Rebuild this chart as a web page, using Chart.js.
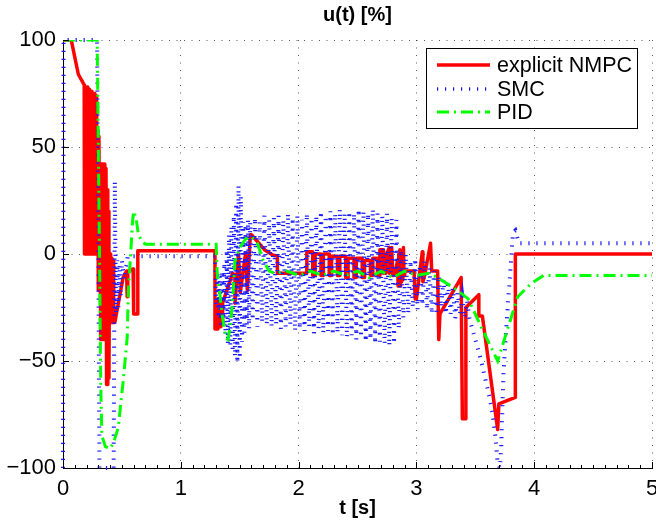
<!DOCTYPE html>
<html>
<head>
<meta charset="utf-8">
<title>u(t) [%]</title>
<script src="https://cdn.jsdelivr.net/npm/chart.js@4.4.0/dist/chart.umd.min.js"></script>
<style>
  html, body { margin: 0; padding: 0; background: #fff; }
</style>
</head>
<body>
<canvas id="uChart" width="656" height="527"></canvas>
<script>
// Data: time [s] and control signal u [%]
const nmpcT = [
  0, 0.07, 0.10, 0.13, 0.18,
  0.18, 0.185, 0.19, 0.195, 0.20, 0.205, 0.21, 0.215, 0.22, 0.225, 0.23, 0.235, 0.24, 0.245, 0.25, 0.255, 0.26, 0.265, 0.27, 0.275, 0.28, 0.285, 0.29,
  0.295, 0.30, 0.305, 0.31, 0.315, 0.32, 0.325, 0.33, 0.335, 0.34, 0.345, 0.35, 0.355, 0.36, 0.365, 0.37, 0.375, 0.38, 0.385, 0.39, 0.395, 0.40,
  0.405, 0.41, 0.415, 0.42, 0.425, 0.43, 0.44, 0.51, 0.54, 0.545, 0.55, 0.595, 0.60, 0.63, 0.635, 1.29,
  1.29, 1.295, 1.30, 1.305, 1.31, 1.315, 1.32, 1.325, 1.33, 1.335, 1.34, 1.345, 1.35, 1.355, 1.36,
  1.44, 1.46, 1.46, 1.49, 1.505, 1.55, 1.565, 1.59, 1.60, 1.71, 1.78, 1.82, 1.82, 2.07, 2.07,
  2.12, 2.12, 2.14, 2.14, 2.19, 2.19, 2.21, 2.21, 2.26, 2.26, 2.28, 2.28, 2.33, 2.33, 2.35, 2.35,
  2.40, 2.40, 2.42, 2.42, 2.47, 2.47, 2.49, 2.49, 2.54, 2.54, 2.56, 2.56, 2.61, 2.61, 2.63, 2.63,
  2.67, 2.67, 2.69, 2.69, 2.72, 2.72, 2.74, 2.74, 2.77, 2.77, 2.79, 2.79, 2.80, 2.82,
  2.84, 2.845, 2.85, 2.855, 2.86, 2.865, 2.87, 2.875, 2.88, 2.885, 2.89, 2.895, 2.90,
  2.98, 2.99, 3.00, 3.05, 3.055, 3.07, 3.12, 3.13, 3.18, 3.19, 3.20, 3.38, 3.39, 3.42, 3.42,
  3.53, 3.53, 3.56, 3.69, 3.70, 3.84, 3.84, 5
];
const nmpcU = [
  100, 100, 92, 84, 79,
  0, 79, 0, 78, 0, 78, 0, 77, 0, 77, 0, 76, 0, 76, 0, 75, 0, 75, 0, 74, 0, 74, 0,
  58, -17, 55, -17, 42, -40, 42, -40, 42, -40, 42, -40, 42, -35, 40, -61, 30, -61, 20, -58, 0, -32,
  0, -32, -2, -32, -3, -32, -32, -11, -8, -20, -8, -7, -28, -28, 1.5, 1.5,
  -35, -22, -35, -22, -35, -23, -34, -22, -33, -23, -34, -22, -33, -23, -22,
  -9, -10, -23, 0, -18, 0.5, -17, 9, 9, 2, -0.5, -1, -9, -9, 1,
  1, -10, -10, 0, 0, -10, -10, 0, 0, -10, -10, -1, -1, -10, -10, -1,
  -1, -11, -11, -2, -2, -11, -11, -2, -2, -11, -11, -3, -3, -10, -10, -2,
  -2, -10, -10, 2, 2, -9, -9, -1, 3, -9, -8, 3, -10, -9,
  -3, -15, 0, -14, 2, -15, -2, -13, 1, -12, 3, -10, -8,
  -8, -21, -21, 1, -13, -10, 5, -8, -8, -40, -28, -11, -77, -77, -25,
  -19, -29, -29, -82, -70, -67, 0, 0
];

const smcT = [
  0, 0.005, 0.29, 0.31, 0.43, 0.44, 0.45, 0.46, 0.47, 0.48, 0.49, 0.50, 0.52, 0.55, 1.29,
  1.30, 1.31, 1.32, 1.33, 1.34, 1.35, 1.36, 1.37, 1.38, 1.39, 1.40, 1.41, 1.42, 1.43, 1.44,
  1.45, 1.46, 1.47, 1.48, 1.49, 1.50, 1.51, 1.52, 1.53, 1.54, 1.55, 1.56, 1.57, 1.58, 1.59,
  1.61, 1.63, 1.65, 1.67, 1.69, 1.71, 1.73, 1.75, 1.77, 1.79,
  1.81, 1.83, 1.85, 1.87, 1.89, 1.91, 1.93, 1.95, 1.97, 1.99,
  2.01, 2.03, 2.05, 2.07, 2.09, 2.11, 2.13, 2.15, 2.17, 2.19,
  2.21, 2.23, 2.25, 2.27, 2.29, 2.31, 2.33, 2.35, 2.37, 2.39,
  2.41, 2.43, 2.45, 2.47, 2.49, 2.51, 2.53, 2.55, 2.57, 2.59,
  2.61, 2.63, 2.65, 2.67, 2.69, 2.71, 2.73, 2.75, 2.77, 2.79,
  2.81, 2.83,
  2.85, 2.87, 2.89, 2.91, 2.93, 2.95, 2.97, 2.99, 3.01, 3.03,
  3.05, 3.07, 3.09, 3.11, 3.13, 3.15, 3.17, 3.19, 3.21, 3.23,
  3.25, 3.27, 3.29, 3.31, 3.33, 3.35, 3.37, 3.39, 3.41, 3.43, 3.45,
  3.50, 3.55, 3.60, 3.64, 3.67, 3.69, 3.71, 3.72, 3.74, 3.76, 3.78, 3.80, 3.82, 3.84, 3.87, 5
];
const smcU = [
  -100, 100, 100, -100, -100, 34, -28, -3, -25, -5, -20, -3, -12, -1, -1,
  -24, -8, -30, -10, -33, -8, -34, -4, -38, 2, -42, 9, -43, 13, -46,
  18, -48, 24, -51, 32, -49, 27, -41, 15, -37, 14, -33, 16, -35, 15,
  -31, 17, -34, 15, -32, 18, -33, 16, -34, 17,
  -33, 18, -35, 16, -34, 19, -33, 17, -36, 18,
  -35, 16, -36, 19, -34, 17, -37, 18, -35, 20,
  -37, 18, -36, 20, -38, 19, -37, 21, -38, 19,
  -39, 20, -38, 19, -40, 21, -39, 20, -41, 19,
  -40, 21, -42, 19, -41, 18, -42, 19, -43, 17,
  -42, 16,
  -35, 2, -30, 0, -28, -3, -25, -2, -26, -5,
  -24, -3, -26, -6, -28, -8, -27, -10, -25, -12,
  -28, -14, -28, -16, -30, -18, -28, -20, -30, -22, -30,
  -40, -50, -62, -72, -85, -98, -100, -90, -55, -37, -21, -6, 10, 11, 5, 5
];

const pidT = [
  0, 0.29, 0.31, 0.32, 0.33, 0.36, 0.40, 0.43, 0.47, 0.49,
  0.51, 0.545, 0.555, 0.57, 0.59, 0.60, 0.62, 0.64, 0.67, 0.70,
  1.30, 1.31, 1.33, 1.35, 1.38, 1.40, 1.42, 1.44, 1.46, 1.50,
  1.55, 1.60, 1.65, 1.70, 1.75, 1.80, 1.90, 2.00, 2.10, 2.20,
  2.30, 2.40, 2.50, 2.60, 2.70, 2.80, 2.90, 3.00, 3.10, 3.18,
  3.35, 3.44, 3.55, 3.69, 3.78, 3.86, 3.97, 4.08, 5
];
const pidU = [
  100, 100, 0, -60, -85, -90, -91, -88, -81, -70,
  -60, -39, -17, -4, 15, 20, 17, 9, 6, 4.5,
  4.5, -10, -18, -28, -39, -40, -34, -22, -3, 3,
  7, 8, 5, -3, -8, -9, -8, -10, -8, -10,
  -8, -10, -8, -11, -8, -11, -8, -10, -9, -11,
  -17, -21, -34, -50, -34, -20, -14, -10, -10
];

const xTicks = [0, 1, 2, 3, 4, 5];
const yTicks = [-100, -50, 0, 50, 100];

const FONT = '"Liberation Sans", Arial, Helvetica, sans-serif';

function pts(t, u) {
  return t.map((v, i) => ({ x: v, y: u[i] }));
}

// title, inward ticks and the boxed legend, drawn like the matlab figure
const figureExtras = {
  id: 'figureExtras',
  afterDraw(chart) {
    const { ctx, chartArea: a, scales: { x, y } } = chart;
    ctx.save();

    // ticks pointing inside
    ctx.strokeStyle = '#000';
    ctx.lineWidth = 1;
    ctx.beginPath();
    for (let i = 0; i <= 50; i++) {
      const px = Math.round(x.getPixelForValue(i / 10)) + 0.5;
      const len = i % 10 === 0 ? 6 : 3;
      ctx.moveTo(px, a.bottom);
      ctx.lineTo(px, a.bottom - len);
    }
    yTicks.forEach(v => {
      const py = Math.round(y.getPixelForValue(v)) + 0.5;
      ctx.moveTo(a.left, py);
      ctx.lineTo(a.left + 6, py);
    });
    ctx.stroke();

    // title
    ctx.fillStyle = '#000';
    ctx.font = 'bold 20px ' + FONT;
    ctx.textAlign = 'center';
    ctx.textBaseline = 'middle';
    ctx.fillText('u(t) [%]', (a.left + a.right) / 2, 15);

    // legend
    const bw = 211, bh = 80;
    const bx = a.right - 15 - bw, by = a.top + 8;
    ctx.fillStyle = '#fff';
    ctx.fillRect(bx, by, bw, bh);
    ctx.strokeStyle = '#000';
    ctx.lineWidth = 1;
    ctx.strokeRect(bx + 0.5, by + 0.5, bw, bh);
    ctx.font = '21.5px ' + FONT;
    ctx.textAlign = 'left';
    const rows = [17, 41, 64];
    chart.data.datasets.forEach((ds, i) => {
      const ry = by + rows[i];
      ctx.save();
      ctx.strokeStyle = ds.borderColor;
      ctx.lineWidth = Math.min(ds.borderWidth, 3.5);
      ctx.setLineDash(ds.borderDash || []);
      ctx.beginPath();
      ctx.moveTo(bx + 11, ry);
      ctx.lineTo(bx + 64, ry);
      ctx.stroke();
      ctx.restore();
      ctx.fillStyle = '#000';
      ctx.fillText(ds.label, bx + 71, ry + 1);
    });
    ctx.restore();
  }
};

const ctx = document.getElementById('uChart').getContext('2d');
const uChart = new Chart(ctx, {
  type: 'line',
  data: {
    datasets: [
      {
        label: 'explicit NMPC',
        data: pts(nmpcT, nmpcU),
        borderColor: '#ff0000',
        borderWidth: 3.5,
        borderJoinStyle: 'round',
        order: 3
      },
      {
        label: 'SMC',
        data: pts(smcT, smcU),
        borderColor: '#1a1aff',
        borderWidth: 4,
        borderDash: [1.2, 6.8],
        clip: 4,
        order: 2
      },
      {
        label: 'PID',
        data: pts(pidT, pidU),
        borderColor: '#00ff00',
        borderWidth: 3,
        borderDash: [12, 5, 2, 5],
        order: 1
      }
    ]
  },
  options: {
    responsive: false,
    animation: false,
    layout: { padding: { top: 40, right: 4, left: 0, bottom: 0 } },
    elements: {
      point: { radius: 0 },
      line: { tension: 0, fill: false }
    },
    plugins: {
      legend: { display: false },
      tooltip: { enabled: false }
    },
    scales: {
      x: {
        type: 'linear',
        min: 0,
        max: 5,
        afterBuildTicks: s => { s.ticks = xTicks.map(v => ({ value: v })); },
        afterFit: s => { s.height = 59; s.paddingLeft = 0; s.paddingRight = 0; },
        grid: { color: 'rgba(0,0,0,0.65)', lineWidth: 1, drawTicks: false },
        border: { display: true, color: '#000', width: 1, dash: [1, 6.5] },
        ticks: { color: '#000', padding: 8, maxRotation: 0, font: { family: FONT, size: 22 } },
        title: {
          display: true,
          text: 't [s]',
          color: '#000',
          font: { family: FONT, size: 20, weight: 'bold' },
          padding: { top: 0, bottom: 7 }
        }
      },
      y: {
        min: -100,
        max: 100,
        afterBuildTicks: s => { s.ticks = yTicks.map(v => ({ value: v })); },
        afterFit: s => { s.width = 63; },
        grid: { color: 'rgba(0,0,0,0.65)', lineWidth: 1, drawTicks: false },
        border: { display: true, color: '#000', width: 1, dash: [1, 6.5] },
        ticks: {
          color: '#000',
          padding: 7,
          font: { family: FONT, size: 22 },
          callback: v => String(v).replace('-', '\u2212')
        }
      }
    }
  },
  plugins: [figureExtras]
});
</script>
</body>
</html>
